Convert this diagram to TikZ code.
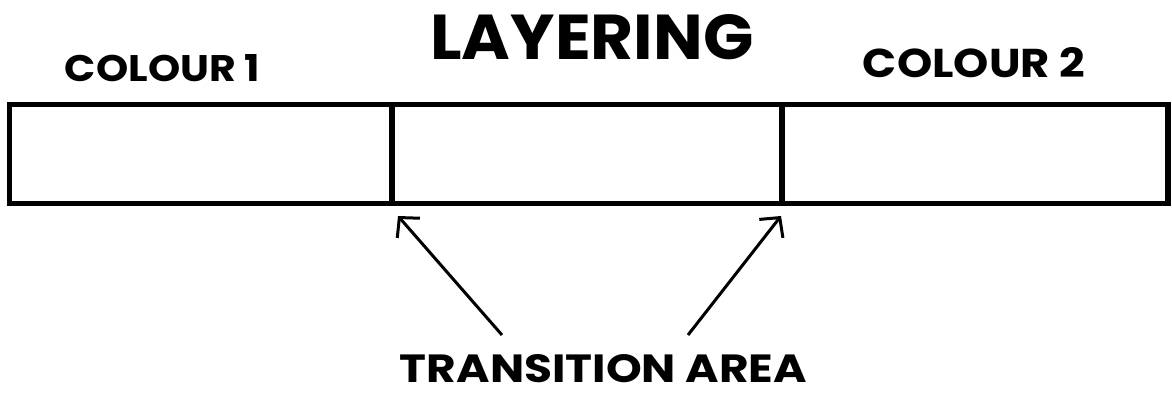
\documentclass[tikz,border=0pt]{standalone}
\usepackage{fontspec}
\setmainfont{Poppins}
\usepackage{graphicx}
\usetikzlibrary{arrows.meta}
\begin{document}
\begin{tikzpicture}[x=1pt,y=-1pt,
  lbl/.style={inner sep=0pt,anchor=center,font=\bfseries},
  cell/.style={draw=black,line width=5.5pt,minimum height=99pt,inner sep=0pt},
  pointer/.style={line width=3pt,-{Straight Barb[length=14pt,width=30pt,line width=3pt]}}]
\useasboundingbox (0,0) rectangle (1172,394);
\node[cell,minimum width=382.5pt] (c1) at (200.75,153.75) {};
\node[cell,minimum width=390pt] (c2) at (587,153.75) {};
\node[cell,minimum width=386pt] (c3) at (975,153.75) {};
\node[lbl] (title) at (592,37) {\resizebox{323pt}{45pt}{LAYERING}};
\node[lbl] (col1) at (162.5,68.5) {\resizebox{195pt}{27pt}{COLOUR 1}};
\node[lbl] (col2) at (974,63) {\resizebox{222pt}{30pt}{COLOUR 2}};
\node[lbl] (trans) at (603.5,369) {\resizebox{407pt}{28pt}{TRANSITION AREA}};
\coordinate (t1) at (502,335);
\coordinate (t2) at (688,335);
\coordinate (h1) at (398,216);
\coordinate (h2) at (781,216);
\draw[pointer] (t1) -- (h1);
\draw[pointer] (t2) -- (h2);
\end{tikzpicture}
\end{document}
